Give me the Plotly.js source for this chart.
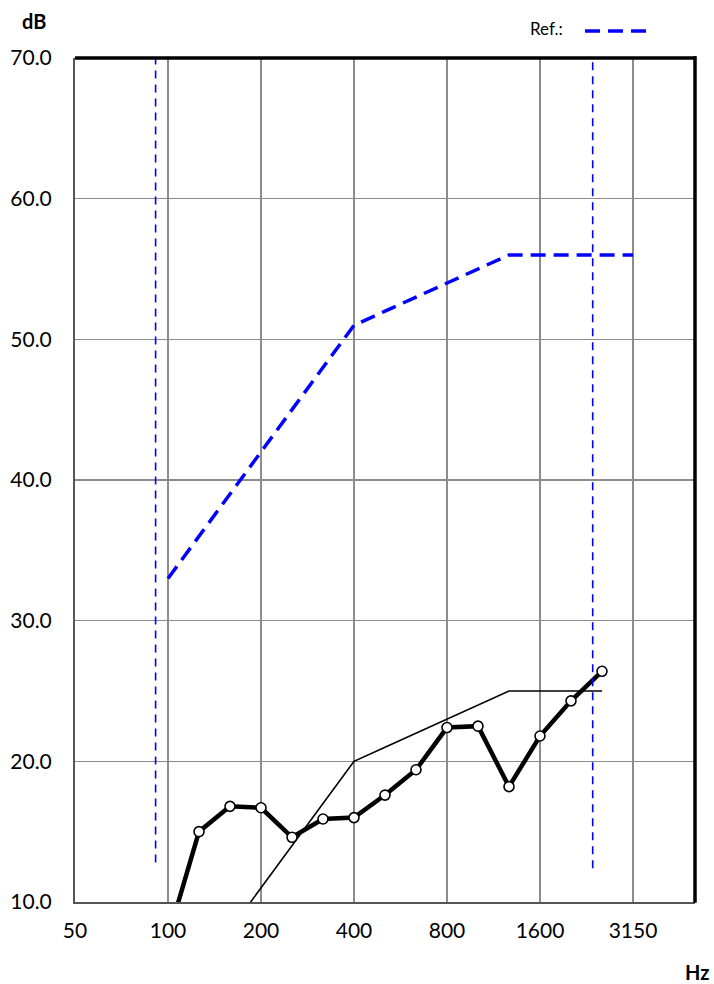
<!DOCTYPE html>
<html>
<head>
<meta charset="utf-8">
<script src="https://cdn.plot.ly/plotly-3.0.1.min.js"></script>
<style>
  html, body { margin: 0; padding: 0; background: #fff; }
  #chart { width: 714px; height: 984px; }
</style>
</head>
<body>
<div id="chart"></div>
<script>
// One-third-octave band centre frequencies (Hz), one slot per band on the x axis
const bands = ['50','63','80','100','125','160','200','250','315','400','500','630',
               '800','1000','1250','1600','2000','2500','3150','4000','5000'];

// Labelled octave ticks
const tickBands = ['50','100','200','400','800','1600','3150'];

// Measured values (dB), 100 Hz .. 2500 Hz
const measuredBands = ['100','125','160','200','250','315','400','500','630','800',
                       '1000','1250','1600','2000','2500'];
const measured = [7.5, 15.0, 16.8, 16.7, 14.6, 15.9, 16.0, 17.6, 19.4, 22.4,
                  22.5, 18.2, 21.8, 24.3, 26.4];

// Reference curve (dB), 100 Hz .. 3150 Hz
const refBands = ['100','125','160','200','250','315','400','500','630','800',
                  '1000','1250','1600','2000','2500','3150'];
const refValues = [33, 36, 39, 42, 45, 48, 51, 52, 53, 54, 55, 56, 56, 56, 56, 56];

// Shifted reference curve (dB), 100 Hz .. 2500 Hz
const shiftedBands = ['100','125','160','200','250','315','400','500','630','800',
                      '1000','1250','1600','2000','2500'];
const shiftedValues = [2, 5, 8, 11, 14, 17, 20, 21, 22, 23, 24, 25, 25, 25, 25];

// Frequency-range limit markers (band-slot position, bottom and top in dB)
const limitPos = [2.6, 16.7];
const limitBottom = [12.8, 12.4];
const limitTop = [70, 70];

const pos = f => bands.indexOf(f);

const traces = [];

// shifted reference curve (thin black)
traces.push({
  x: shiftedBands.map(pos), y: shiftedValues,
  type: 'scatter', mode: 'lines',
  line: { color: '#000', width: 1.6 },
  hoverinfo: 'skip', showlegend: false
});

// reference curve (blue dashed)
traces.push({
  x: refBands.map(pos), y: refValues,
  type: 'scatter', mode: 'lines',
  line: { color: '#0000ff', width: 3.5, dash: '15px,8px' },
  hoverinfo: 'skip', showlegend: false
});

// measured curve (thick black with open circles)
traces.push({
  x: measuredBands.map(pos), y: measured,
  type: 'scatter', mode: 'lines+markers',
  line: { color: '#000', width: 4.5 },
  marker: { symbol: 'circle', size: 10, color: '#fff', line: { color: '#000', width: 1.6 } },
  hoverinfo: 'skip', showlegend: false
});

// frequency-range limit markers (thin blue dashed verticals)
limitPos.forEach((p, i) => {
  traces.push({
    x: [p, p], y: [limitBottom[i], limitTop[i]],
    type: 'scatter', mode: 'lines',
    line: { color: '#0000ff', width: 1.6, dash: '8px,6px' },
    hoverinfo: 'skip', showlegend: false, cliponaxis: false
  });
});

const tickFont = { family: 'Lato, "Liberation Sans", sans-serif', size: 21, color: '#000' };

const layout = {
  width: 714, height: 984,
  margin: { l: 75, r: 19, t: 58, b: 82 },
  paper_bgcolor: '#fff', plot_bgcolor: '#fff',
  showlegend: false,
  xaxis: {
    range: [0, 20], type: 'linear',
    tickvals: tickBands.map(pos), ticktext: tickBands,
    showgrid: true, gridcolor: '#8c8c8c', gridwidth: 1.5,
    zeroline: false, showline: true, linecolor: '#555', linewidth: 2,
    ticks: '', tickfont: tickFont, ticklabelstandoff: 9,
    fixedrange: true
  },
  yaxis: {
    range: [10, 70], dtick: 10, tick0: 10, tickformat: '.1f',
    showgrid: true, gridcolor: '#8c8c8c', gridwidth: 1.5,
    zeroline: false, showline: true, linecolor: '#555', linewidth: 2,
    ticks: '', tickfont: tickFont, ticklabelstandoff: 17,
    fixedrange: true
  },
  shapes: [
    // heavy top and right frame
    { type: 'line', xref: 'paper', yref: 'paper', x0: 0, x1: 1.002, y0: 1, y1: 1,
      line: { color: '#000', width: 3.5 } },
    { type: 'line', xref: 'paper', yref: 'paper', x0: 1, x1: 1, y0: -0.001, y1: 1.002,
      line: { color: '#000', width: 3.5 } },
    // legend sample line
    { type: 'line', xref: 'paper', yref: 'paper', x0: 0.8226, x1: 0.9226, y0: 1.032, y1: 1.032,
      line: { color: '#0000ff', width: 3.5, dash: '15px,8px' } }
  ],
  annotations: [
    { text: '<b>dB</b>', xref: 'paper', yref: 'paper', x: -0.066, y: 1.0438,
      xanchor: 'center', yanchor: 'middle', showarrow: false,
      font: { family: 'Lato, sans-serif', size: 20, color: '#000' } },
    { text: 'Ref.:', xref: 'paper', yref: 'paper', x: 0.761, y: 1.0355,
      xanchor: 'center', yanchor: 'middle', showarrow: false,
      font: { family: 'Lato, sans-serif', size: 17, color: '#000' } },
    { text: '<b>Hz</b>', xref: 'paper', yref: 'paper', x: 1.003, y: -0.0829,
      xanchor: 'center', yanchor: 'middle', showarrow: false,
      font: { family: 'Lato, sans-serif', size: 20, color: '#000' } }
  ]
};

Plotly.newPlot('chart', traces, layout, { displayModeBar: false, staticPlot: true });
</script>
</body>
</html>
